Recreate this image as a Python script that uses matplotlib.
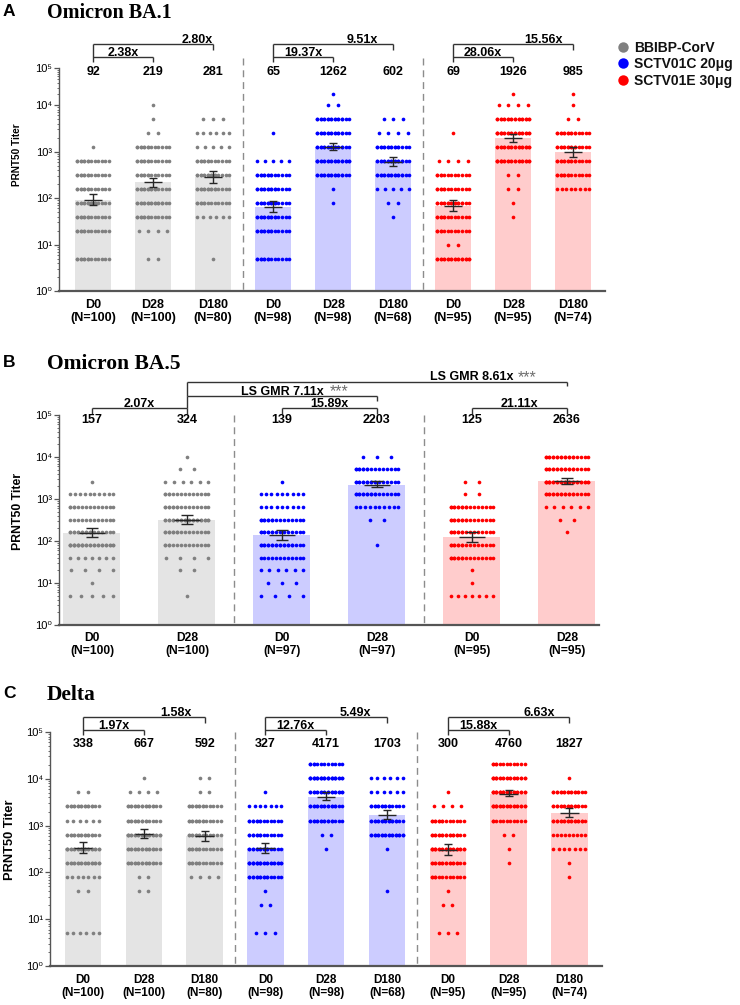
import numpy as np
import matplotlib
matplotlib.use('Agg')
import matplotlib.pyplot as plt
from matplotlib.transforms import blended_transform_factory
from matplotlib.lines import Line2D
from matplotlib.ticker import FixedLocator, FixedFormatter, NullFormatter

plt.rcParams['font.family'] = ['Liberation Sans', 'DejaVu Sans']

W, H = 740, 1005
fig = plt.figure(figsize=(7.4, 10.05), dpi=100)

# ---------------- data ----------------
LEVELS = [5, 10, 20, 40, 80, 160, 320, 640, 1280, 2560, 5120, 10240, 20480]
VACCINES = ['BBIBP-CorV', 'SCTV01C 20μg', 'SCTV01E 30μg']
DOT_COLORS = ['#808080', '#0000ff', '#ff0000']
BAR_COLORS = ['#e4e4e4', '#ccccff', '#ffcccc']

# Panel A: Omicron BA.1
a_days = ['D0', 'D28', 'D180', 'D0', 'D28', 'D180', 'D0', 'D28', 'D180']
a_group = [0, 0, 0, 1, 1, 1, 2, 2, 2]
a_n = [100, 100, 80, 98, 98, 68, 95, 95, 74]
a_gmt = [92, 219, 281, 65, 1262, 602, 69, 1926, 985]
a_ci_lo = [70, 172, 208, 49, 1060, 480, 52, 1580, 780]
a_ci_hi = [121, 276, 380, 86, 1500, 750, 90, 2350, 1250]
a_counts = [
    [14, 0, 13, 14, 16, 14, 14, 14, 1, 0, 0, 0, 0],
    [2, 0, 4, 14, 18, 16, 14, 14, 14, 2, 1, 1, 0],
    [1, 0, 0, 6, 13, 16, 16, 14, 5, 6, 3, 0, 0],
    [14, 0, 15, 16, 16, 16, 15, 5, 0, 1, 0, 0, 0],
    [0, 0, 0, 0, 1, 1, 18, 21, 18, 18, 18, 2, 1],
    [0, 0, 0, 1, 2, 5, 18, 18, 17, 4, 3, 0, 0],
    [20, 2, 12, 13, 18, 13, 12, 4, 0, 1, 0, 0, 0],
    [0, 0, 0, 1, 1, 2, 2, 22, 20, 22, 20, 4, 1],
    [0, 0, 0, 0, 0, 8, 14, 16, 16, 16, 2, 1, 1],
]
a_ratio_d28 = ['2.38x', '19.37x', '28.06x']
a_ratio_d180 = ['2.80x', '9.51x', '15.56x']

# Panel B: Omicron BA.5
b_days = ['D0', 'D28', 'D0', 'D28', 'D0', 'D28']
b_group = [0, 0, 1, 1, 2, 2]
b_n = [100, 100, 97, 97, 95, 95]
b_gmt = [157, 324, 139, 2203, 125, 2636]
b_ci_lo = [122, 254, 105, 1900, 97, 2220]
b_ci_hi = [200, 420, 181, 2630, 161, 3200]
b_counts = [
    [5, 1, 4, 7, 28, 18, 12, 14, 10, 1, 0, 0, 0],
    [1, 0, 2, 4, 14, 16, 24, 16, 14, 6, 2, 1, 0],
    [4, 3, 6, 12, 21, 16, 16, 9, 9, 1, 0, 0, 0],
    [0, 0, 0, 0, 1, 0, 2, 10, 18, 18, 16, 3, 0],
    [7, 1, 1, 16, 16, 16, 17, 17, 2, 2, 0, 0, 0],
    [0, 0, 0, 0, 0, 1, 2, 6, 20, 26, 20, 20, 0],
]
b_ratio_d28 = ['2.07x', '15.89x', '21.11x']
b_ls_gmr = ['LS GMR 7.11x', 'LS GMR 8.61x']
b_sig = ['***', '***']

# Panel C: Delta
c_days = ['D0', 'D28', 'D180', 'D0', 'D28', 'D180', 'D0', 'D28', 'D180']
c_group = [0, 0, 0, 1, 1, 1, 2, 2, 2]
c_n = [100, 100, 80, 98, 98, 68, 95, 95, 74]
c_gmt = [338, 667, 592, 327, 4171, 1703, 300, 4760, 1827]
c_ci_lo = [256, 540, 465, 255, 3550, 1370, 240, 4200, 1520]
c_ci_hi = [452, 835, 785, 435, 5300, 2200, 395, 5800, 2400]
c_counts = [
    [6, 0, 0, 2, 7, 20, 21, 18, 6, 18, 2, 0, 0],
    [0, 0, 0, 2, 2, 18, 18, 21, 16, 18, 4, 1, 0],
    [0, 0, 0, 0, 4, 14, 14, 14, 15, 15, 2, 2, 0],
    [3, 0, 2, 1, 16, 24, 16, 14, 14, 7, 1, 0, 0],
    [0, 0, 0, 0, 0, 0, 1, 2, 17, 18, 20, 28, 12],
    [0, 0, 0, 1, 0, 0, 1, 20, 18, 16, 6, 6, 0],
    [3, 0, 2, 1, 12, 18, 22, 18, 14, 4, 1, 0, 0],
    [0, 0, 0, 0, 0, 1, 1, 2, 11, 22, 24, 22, 12],
    [0, 0, 0, 0, 1, 1, 7, 9, 19, 18, 18, 1, 0],
]
c_ratio_d28 = ['1.97x', '12.76x', '15.88x']
c_ratio_d180 = ['1.58x', '5.49x', '6.63x']

TICK_LABELS = ['10⁰', '10¹', '10²', '10³', '10⁴', '10⁵']
TICK_VALUES = [1e0, 1e1, 1e2, 1e3, 1e4, 1e5]

# ---------------- helpers ----------------
def fy(ypx):
    return 1 - ypx / H


def make_axes(left, right, top, bottom):
    return fig.add_axes([left / W, 1 - bottom / H, (right - left) / W, (bottom - top) / H])


def fwd_a(y):
    ly = np.log10(np.maximum(np.asarray(y, dtype=float), 1e-12))
    return np.where(ly <= 4, ly, 4 + (ly - 4) * 0.79)


def inv_a(u):
    u = np.asarray(u, dtype=float)
    return 10 ** np.where(u <= 4, u, 4 + (u - 4) / 0.79)


EC = '#262626'
LC = '#333333'


def draw_panel(ax, days, ns, groups, gmt, lo, hi, counts, xlim, halfw, maxstep, maxpos,
               capsize, midhalf, xfs, xpad, ylfs, ylpos, scale=None):
    x = np.arange(len(gmt))
    gmt = np.array(gmt, dtype=float)
    lo = np.array(lo, dtype=float)
    hi = np.array(hi, dtype=float)
    if scale is not None:
        ax.set_yscale('function', functions=scale)
    else:
        ax.set_yscale('log')
    ax.set_xlim(*xlim)
    ax.set_ylim(1, 1e5)
    ax.bar(x, gmt - 1, bottom=1, width=0.6,
           color=[BAR_COLORS[g] for g in groups], edgecolor='none', zorder=1)
    for i in range(len(gmt)):
        xs, ys = [], []
        for lev, n in zip(LEVELS, counts[i]):
            if n == 0:
                continue
            npos = min(n, maxpos)
            if npos == 1:
                pos = np.array([0.0])
            else:
                step = min(maxstep, 2 * halfw / (npos - 1))
                pos = (np.arange(npos) - (npos - 1) / 2) * step
            xs.extend(x[i] + pos[np.arange(n) % npos])
            ys.extend([lev] * n)
        ax.scatter(xs, ys, s=7, color=DOT_COLORS[groups[i]], linewidths=0, zorder=3)
    ax.errorbar(x, gmt, yerr=[gmt - lo, hi - gmt], fmt='none', ecolor=EC,
                elinewidth=1.0, capsize=capsize, capthick=1.0, zorder=4)
    ax.hlines(gmt, x - midhalf, x + midhalf, color=EC, lw=1.0, zorder=4)

    for s in ['top', 'right']:
        ax.spines[s].set_visible(False)
    ax.spines['left'].set_color('#555555')
    ax.spines['left'].set_linewidth(1.0)
    ax.spines['bottom'].set_color('#555555')
    ax.spines['bottom'].set_linewidth(1.6)

    ax.yaxis.set_major_locator(FixedLocator(TICK_VALUES))
    ax.yaxis.set_major_formatter(FixedFormatter(TICK_LABELS))
    ax.yaxis.set_minor_locator(FixedLocator([k * 10 ** d for d in range(5) for k in range(2, 10)]))
    ax.yaxis.set_minor_formatter(NullFormatter())
    ax.tick_params(axis='y', which='major', length=3.5, width=0.9, color='#555555',
                   labelsize=8, pad=1.5)
    ax.tick_params(axis='y', which='minor', length=1.8, width=0.6, color='#555555')

    ax.set_xticks(x)
    ax.set_xticklabels([f'{d}\n(N={n})' for d, n in zip(days, ns)],
                       fontsize=xfs, fontweight='bold', linespacing=1.1)
    ax.tick_params(axis='x', length=0, pad=xpad)

    ax.set_ylabel('PRNT50 Titer', fontsize=ylfs, fontweight='bold')
    ax.yaxis.label.set_verticalalignment('center')
    ax.yaxis.set_label_coords(*ylpos)
    return x


def seg(ax, x0, x1, y0, y1):
    tr = blended_transform_factory(ax.transData, fig.transFigure)
    ax.add_line(Line2D([x0, x1], [fy(y0), fy(y1)], transform=tr, color=LC,
                       lw=1.0, clip_on=False, solid_capstyle='butt'))


def txt(ax, xv, ypx, s, **kw):
    tr = blended_transform_factory(ax.transData, fig.transFigure)
    kw.setdefault('fontsize', 9)
    kw.setdefault('fontweight', 'bold')
    kw.setdefault('ha', 'center')
    kw.setdefault('va', 'baseline')
    ax.text(xv, fy(ypx), s, transform=tr, clip_on=False, **kw)


def dashed(ax, xv, ytop, ybot):
    tr = blended_transform_factory(ax.transData, fig.transFigure)
    ax.add_line(Line2D([xv, xv], [fy(ytop), fy(ybot)], transform=tr, color='#8c8c8c',
                       lw=1.0, dashes=(5, 3.5), clip_on=False))


# ---------------- Panel A ----------------
axA = make_axes(59, 605, 68.3, 291)
xa = draw_panel(axA, a_days, a_n, a_group, a_gmt, a_ci_lo, a_ci_hi, a_counts,
                (-0.567, 8.53), 0.267, 0.16, 10, 3.2, 0.15, 9, 6, 7.2,
                ((17 - 59) / 546, 0.61), scale=(fwd_a, inv_a))
for i, v in enumerate(a_gmt):
    txt(axA, xa[i], 75, f'{v}')
a_long_off = [1.73, 1.48, 1.5]
for g in range(3):
    i0 = 3 * g
    seg(axA, i0, i0 + 2, 44, 44)
    seg(axA, i0, i0, 44, 61.7)
    seg(axA, i0 + 2, i0 + 2, 44, 50)
    seg(axA, i0, i0 + 1, 56.7, 56.7)
    seg(axA, i0 + 1, i0 + 1, 56.7, 61.7)
    txt(axA, i0 + 0.5, 55.7, a_ratio_d28[g])
    txt(axA, i0 + a_long_off[g], 43, a_ratio_d180[g])
for xv in (2.5, 5.5):
    dashed(axA, xv, 58, 291)

# ---------------- Panel B ----------------
axB = make_axes(59, 599, 415, 625)
xb = draw_panel(axB, b_days, b_n, b_group, b_gmt, b_ci_lo, b_ci_hi, b_counts,
                (-0.347, 5.337), 0.226, 0.147, 12, 4.3, 0.137, 8.7, 5, 8.8,
                ((18 - 59) / 540, 0.54))
for i, v in enumerate(b_gmt):
    txt(axB, xb[i], 423.3, f'{v}')
for g in range(3):
    i0 = 2 * g
    seg(axB, i0, i0 + 1, 407.7, 407.7)
    seg(axB, i0, i0, 407.7, 414)
    seg(axB, i0 + 1, i0 + 1, 407.7, 414)
    txt(axB, i0 + 0.5, 406.7, b_ratio_d28[g])
# LS GMR brackets
seg(axB, 1, 3, 395.7, 395.7)
seg(axB, 1, 1, 395.7, 407.7)
seg(axB, 3, 3, 395.7, 400.7)
seg(axB, 1, 5, 381.5, 381.5)
seg(axB, 1, 1, 381.5, 395.7)
seg(axB, 5, 5, 381.5, 386)
txt(axB, (324 - 92) / 95, 394.7, b_ls_gmr[0], ha='right')
txt(axB, (330 - 92) / 95, 396.5, b_sig[0], ha='left', fontsize=11.5, fontweight='normal',
    color='#6e6e6e')
txt(axB, (514 - 92) / 95, 380.5, b_ls_gmr[1], ha='right')
txt(axB, (518 - 92) / 95, 382.5, b_sig[1], ha='left', fontsize=11.5, fontweight='normal',
    color='#6e6e6e')
for xv in (1.5, 3.5):
    dashed(axB, xv, 415, 625)

# ---------------- Panel C ----------------
axC = make_axes(50, 602, 732, 966)
xc = draw_panel(axC, c_days, c_n, c_group, c_gmt, c_ci_lo, c_ci_hi, c_counts,
                (-0.543, 8.536), 0.263, 0.15, 10, 3.0, 0.15, 8.5, 6, 9.3,
                ((10 - 50) / 552, 0.54))
for i, v in enumerate(c_gmt):
    txt(axC, xc[i], 746.7, f'{v}')
c_long_off = [1.53, 1.48, 1.5]
for g in range(3):
    i0 = 3 * g
    seg(axC, i0, i0 + 2, 716.7, 716.7)
    seg(axC, i0, i0, 716.7, 735)
    seg(axC, i0 + 2, i0 + 2, 716.7, 722.7)
    seg(axC, i0, i0 + 1, 730, 730)
    seg(axC, i0 + 1, i0 + 1, 730, 735)
    txt(axC, i0 + 0.5, 729, c_ratio_d28[g])
    txt(axC, i0 + c_long_off[g], 715.7, c_ratio_d180[g])
for xv in (2.5, 5.5):
    dashed(axC, xv, 732, 966)

# ---------------- titles ----------------
for letter, title, yb, tfs in [('A', 'Omicron BA.1', 16.5, 14.5),
                               ('B', 'Omicron BA.5', 366.7, 15.5),
                               ('C', 'Delta', 698.3, 15.5)]:
    fig.text(3 / W, fy(yb), letter, fontsize=12.5, fontweight='bold', va='baseline', ha='left')
    fig.text(47 / W, fy(yb + 2), title, fontsize=tfs, fontweight='bold',
             family=['Liberation Serif', 'DejaVu Serif'], va='baseline', ha='left')

# ---------------- legend ----------------
for k, (name, col) in enumerate(zip(VACCINES, DOT_COLORS)):
    yc = 46.7 + 16.7 * k
    fig.add_artist(Line2D([623 / W], [fy(yc)], marker='o', markersize=7.5, color=col,
                          markeredgewidth=0, linestyle='none', transform=fig.transFigure))
    fig.text(634 / W, fy(yc + 4.8), name, fontsize=10, fontweight='bold',
             va='baseline', ha='left', color='#111111')

fig.savefig('out.png', dpi=100)
